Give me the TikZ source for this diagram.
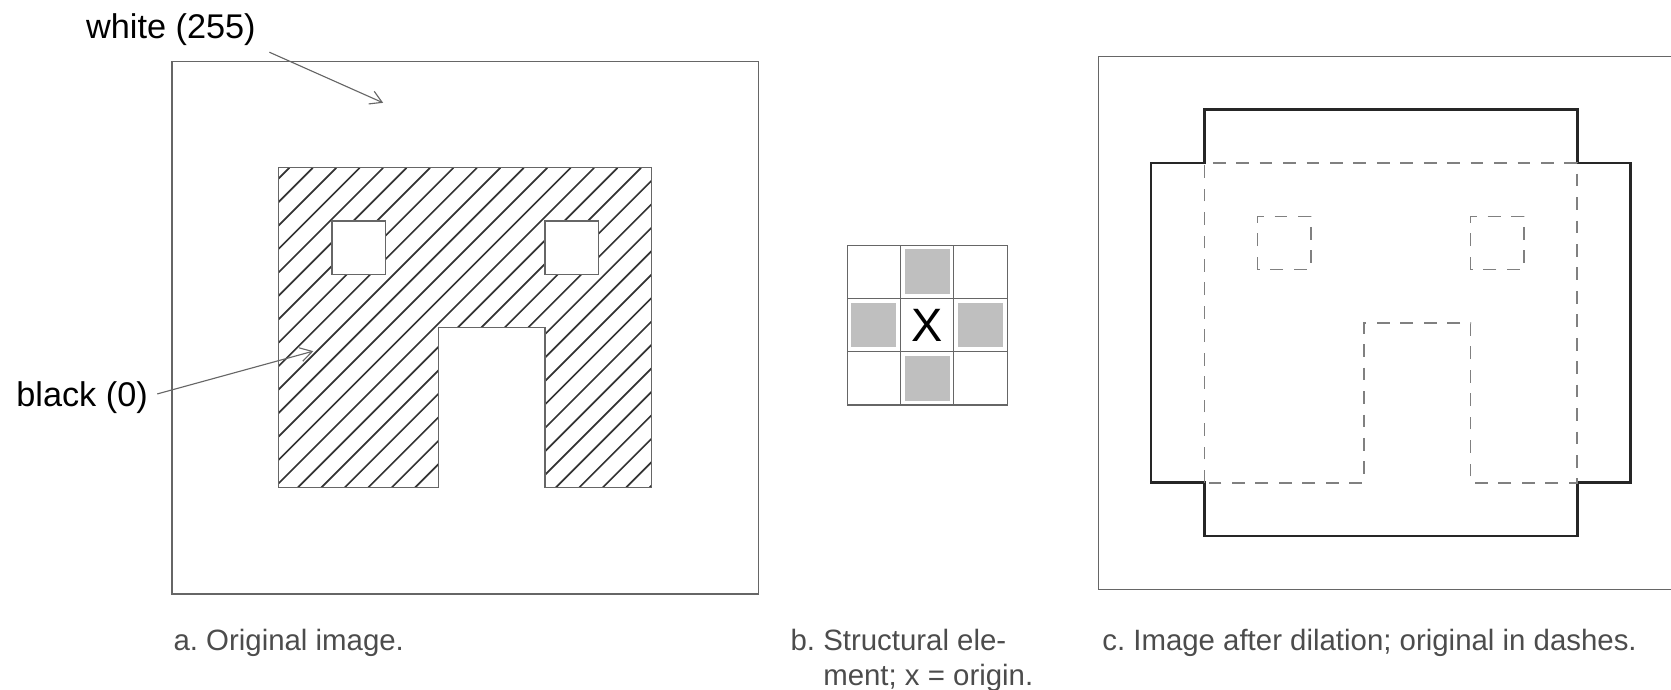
\documentclass[tikz,border=0pt]{standalone}
\usepackage{fontspec}
\setmainfont{Liberation Sans}
\usetikzlibrary{matrix,positioning,arrows.meta}

\begin{document}
\begin{tikzpicture}[
    frame/.style={draw=black!60, line width=0.7pt},
    hatch/.style={draw=black!80, line width=0.9pt},
    hole/.style={fill=white, draw=black!60, line width=0.7pt},
    grown/.style={draw=black!85, line width=1.4pt},
    orig/.style={draw=black!50, line width=0.8pt, dash pattern=on 0.24cm off 0.2cm},
    cell/.style={draw=black!60, line width=0.6pt, minimum size=1cm, inner sep=0pt,
        anchor=center, font=\fontsize{25}{25}\selectfont},
    oncell/.style={path picture={\fill[black!25]
        ([shift={(0.08,0.08)}]path picture bounding box.south west) rectangle
        ([shift={(-0.08,-0.08)}]path picture bounding box.north east);}},
    lbl/.style={font=\fontsize{18.3}{22}\selectfont, inner sep=0pt, anchor=base west},
    captxt/.style={font=\fontsize{15.7}{18.7}\selectfont\frenchspacing, text=black!70, inner sep=0pt, anchor=base west},
    ptr/.style={-{Straight Barb[length=2.2mm,width=2.6mm]}, draw=black!60, line width=0.6pt}
]
    \useasboundingbox (0,0) rectangle (31.36,12.94);

    % a. original image
    \draw[frame] (3.23,1.79) rectangle (14.23,11.79);
    \begin{scope}[shift={(5.23,3.79)}]
        \begin{scope}
            \clip (0,0) -- (0,6) -- (7,6) -- (7,0) -- (5,0) -- (5,3) -- (3,3) -- (3,0) -- cycle;
            \foreach \k in {0,...,30}
                \draw[hatch] ({0.2+0.44*\k-6},0) -- ++(6,6);
        \end{scope}
        \draw[frame] (0,0) -- (0,6) -- (7,6) -- (7,0) -- (5,0) -- (5,3) -- (3,3) -- (3,0) -- cycle;
        \draw[hole] (1,4) rectangle (2,5);
        \draw[hole] (5,4) rectangle (6,5);
    \end{scope}

    \node[lbl] (wlabel) at (1.61,12.21) {white (255)};
    \node[lbl] (blabel) at (0.30,5.32) {black (0)};
    \coordinate (wpoint) at (7.19,11.01);
    \coordinate (bpoint) at (5.88,6.35);
    \draw[ptr] ([shift={(0.25,-0.11)}]wlabel.south east) -- (wpoint);
    \draw[ptr] ([shift={(0.17,0.06)}]blabel.east) -- (bpoint);

    % b. structural element
    \matrix (selem) [matrix of nodes, nodes in empty cells, nodes={cell},
        column sep=-0.6pt, row sep=-0.6pt] at (17.4,6.84) {
                   & |[oncell]| &            \\
        |[oncell]| & X          & |[oncell]| \\
                   & |[oncell]| &            \\
    };

    % c. image after dilation
    \draw[frame] (31.36,11.88) -- (20.62,11.88) -- (20.62,1.88) -- (31.36,1.88);
    \begin{scope}[shift={(22.6,3.88)}]
        \draw[grown] (-1,0) -- (-1,6) -- (0,6) -- (0,7) -- (7,7) -- (7,6) -- (8,6)
            -- (8,0) -- (7,0) -- (7,-1) -- (0,-1) -- (0,0) -- cycle;
        \draw[orig] (0,0) -- (0,6) -- (7,6) -- (7,0) -- (5,0) -- (5,3) -- (3,3) -- (3,0) -- cycle;
        \draw[orig] (1,4) rectangle (2,5);
        \draw[orig] (5,4) rectangle (6,5);
    \end{scope}

    \node[captxt] (capa) at (3.25,0.74) {a. Original image.};
    \node[captxt] (capb) at (14.83,0.74) {\begin{tabular}[t]{@{}l@{\ }l@{}}b. & Structural ele-\\ & ment; x = origin.\end{tabular}};
    \node[captxt] (capc) at (20.68,0.74) {c. Image after dilation; original in dashes.};
\end{tikzpicture}
\end{document}
